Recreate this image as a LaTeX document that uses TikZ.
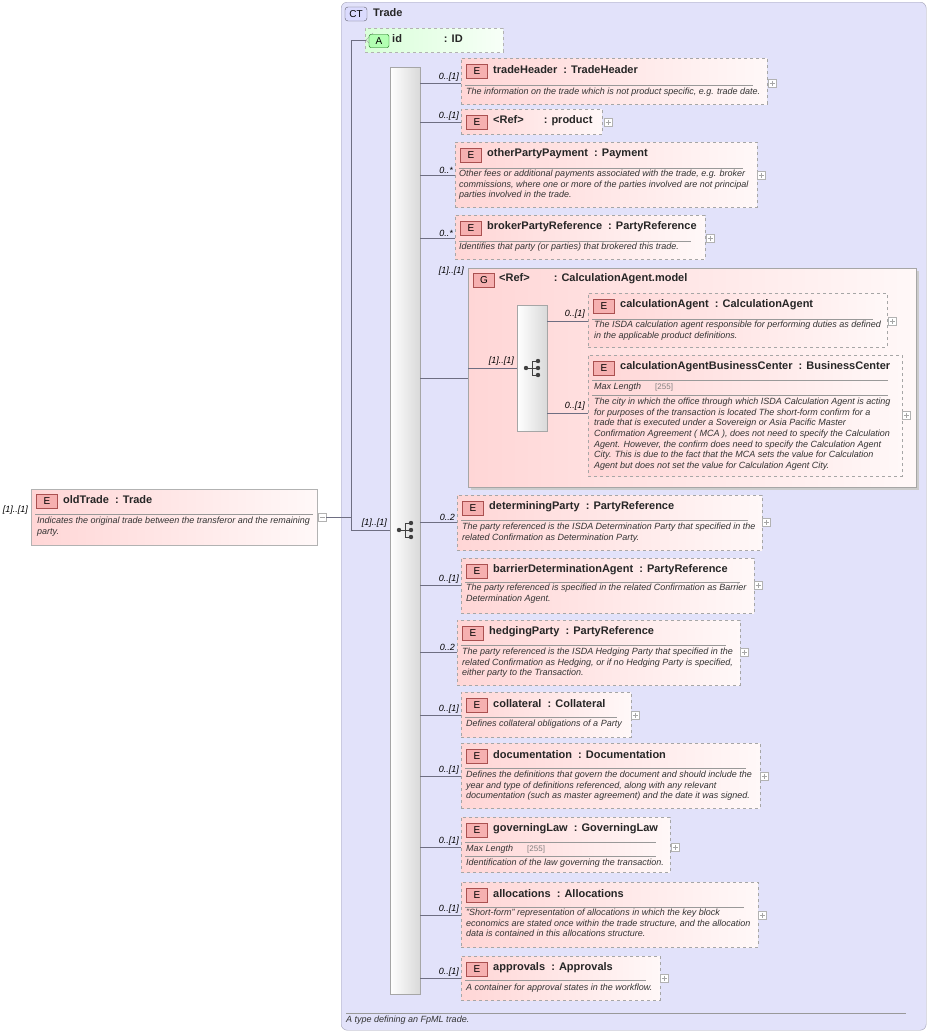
\documentclass[tikz,border=0pt]{standalone}
\usepackage{fontspec}
\setmainfont{Liberation Sans}
\usetikzlibrary{calc}
\definecolor{ctfill}{RGB}{226,226,250}
\definecolor{ctline}{RGB}{160,160,180}
\definecolor{pinkL}{RGB}{255,214,214}
\definecolor{pinkR}{RGB}{255,248,248}
\definecolor{badgeF}{RGB}{246,176,176}
\definecolor{badgeD}{RGB}{170,80,80}
\definecolor{conn}{RGB}{110,110,130}
\tikzset{
 elbox/.style={draw=gray!70,dashed,left color=pinkL,right color=pinkR,inner sep=0pt,anchor=north west},
 badge/.style={draw=badgeD,fill=badgeF,minimum width=21pt,minimum height=14pt,inner sep=0pt,font=\fontsize{10}{10}\selectfont},
 ttl/.style={anchor=west,inner sep=0pt,font=\fontsize{11}{12}\selectfont\bfseries,text=black!85},
 dsc/.style={anchor=north west,inner sep=0pt,align=left,font=\fontsize{9}{10.6}\selectfont\itshape,text=black!80},
 sep/.style={draw=gray!80,line width=0.5pt},
 plus/.style={draw=gray!60,fill=white,minimum size=8pt,inner sep=0pt,path picture={\draw[gray!70] ($(path picture bounding box.west)+(1.5pt,0)$)--($(path picture bounding box.east)+(-1.5pt,0)$) ($(path picture bounding box.north)+(0,-1.5pt)$)--($(path picture bounding box.south)+(0,1.5pt)$);}},
 minus/.style={draw=gray!60,fill=white,minimum size=8pt,inner sep=0pt,path picture={\draw[gray!70] ($(path picture bounding box.west)+(1.5pt,0)$)--($(path picture bounding box.east)+(-1.5pt,0)$);}},
 cn/.style={draw=conn,line width=0.5pt},
 card/.style={anchor=south east,inner sep=1pt,font=\fontsize{9}{10}\selectfont\itshape},
 seqbox/.style={draw=gray!70,left color=white,right color=gray!30,inner sep=0pt,anchor=north west},
}
\newcommand\El[6]{%
 \pgfmathsetmacro\ww{#4-#2}\pgfmathsetmacro\hh{#5-#3}%
 \node[elbox,minimum width=\ww pt,minimum height=\hh pt] (#1) at (#2,#3) {};
 \node[badge] (#1b) at (#2+16,#3+13) {E};
 \node[ttl] (#1t) at (#2+32,#3+12) {#6};
}
\newcommand\Sep[3]{\draw[sep] (#1+4,#3) -- (#2-14,#3);}
\newcommand\Seqicon[2]{%
 \fill[black!75] (#1-7,#2) circle (2.2pt);
 \draw[black!75,line width=0.9pt] (#1-7,#2) -- (#1-1,#2) (#1-1,#2-7) -- (#1-1,#2+7) (#1-1,#2-7) -- (#1+5,#2-7) (#1-1,#2) -- (#1+5,#2) (#1-1,#2+7) -- (#1+5,#2+7);
 \fill[black!75] (#1+5,#2-7) circle (2.2pt) (#1+5,#2) circle (2.2pt) (#1+5,#2+7) circle (2.2pt);
}
\begin{document}
\begin{tikzpicture}[x=1pt,y=-1pt]
\useasboundingbox (0,0) rectangle (930,1036);
% CT box
\node[draw=ctline,fill=ctfill,rounded corners=6pt,minimum width=585pt,minimum height=1028pt,anchor=north west,inner sep=0pt] (ct) at (341,2) {};
\node[draw=ctline!60!black,fill=ctfill!60!blue!30,rounded corners=3pt,minimum width=22pt,minimum height=14pt,inner sep=0pt,font=\fontsize{10}{10}\selectfont] (ctb) at (356,14) {CT};
\node[ttl] (ctt) at (373,13) {Trade};
\draw[sep] (346,1013) -- (906,1013);
\node[dsc] (ctd) at (346,1016) {A type defining an FpML trade.};
% id attribute
\node[draw=gray!60,dashed,left color=green!15,right color=green!3,minimum width=138pt,minimum height=24pt,inner sep=0pt,anchor=north west] (id) at (365,28) {};
\draw[fill=green!20,draw=gray!60] (373,33) -- (366,40) -- (373,47);
\node[draw=green!40!black,fill=green!30,rounded corners=2pt,minimum width=20pt,minimum height=13pt,inner sep=0pt,font=\fontsize{10}{10}\selectfont] (idb) at (379,41) {A};
\node[ttl] (idt) at (392,39) {id\hspace{42pt}: ID};
% oldTrade
\node[elbox,solid,draw=gray!60,minimum width=286pt,minimum height=56pt] (old) at (31,489) {};
\node[badge] (oldb) at (47,501) {E};
\node[ttl] (oldt) at (63,500) {oldTrade\ \ : Trade};
\draw[sep] (35,514) -- (313,514);
\node[dsc] (oldd) at (37,517) {Indicates the original trade between the transferor and the remaining\\party.};
\node[card,anchor=east] (oldc) at (29,510) {[1]..[1]};
\node[minus] (oldm) at (322,517) {};
\coordinate (j1) at (351,517);
\coordinate (j0) at (351,40);
\coordinate (j2) at (351,530);
% main sequence
\node[seqbox,minimum width=30pt,minimum height=927pt] (seq) at (390,67) {};
\Seqicon{406}{530}
\draw[cn] (oldm.east) -- (j1);
\draw[cn] (j0) -- (j2);
\draw[cn] (j0) -- (366,40);
\draw[cn] (j2) -- (seq.west |- j2);
\node[card] at (388,529) {[1]..[1]};
% elements
\El{th}{461}{58}{767}{104}{tradeHeader\ \ : TradeHeader}
\Sep{461}{767}{85}
\node[dsc] at (466,88) {The information on the trade which is not product specific, e.g. trade date.};
\El{pr}{461}{109}{602}{134}{<Ref>\hspace{20pt}: product}
\El{op}{455}{142}{757}{207}{otherPartyPayment\ \ : Payment}
\Sep{455}{757}{168}
\node[dsc] at (459,170) {Other fees or additional payments associated with the trade, e.g. broker\\commissions, where one or more of the parties involved are not principal\\parties involved in the trade.};
\El{bp}{455}{215}{705}{259}{brokerPartyReference\ \ : PartyReference}
\Sep{455}{705}{241}
\node[dsc] at (459,243) {Identifies that party (or parties) that brokered this trade.};
% group
\fill[gray!40] (471,271) rectangle (919,490);
\node[draw=gray!70,left color=pinkL,right color=pinkR,minimum width=448pt,minimum height=219pt,inner sep=0pt,anchor=north west] (grp) at (468,268) {};
\node[badge] (grpb) at (484,280) {G};
\node[ttl] (grpt) at (499,279) {<Ref>\hspace{24pt}: CalculationAgent.model};
\node[seqbox,minimum width=30pt,minimum height=126pt] (seq2) at (517,305) {};
\Seqicon{533}{368}
\El{ca}{588}{293}{887}{347}{calculationAgent\ \ : CalculationAgent}
\Sep{588}{887}{319}
\node[dsc] at (594,321) {The ISDA calculation agent responsible for performing duties as defined\\in the applicable product definitions.};
\El{cb}{588}{355}{902}{476}{calculationAgentBusinessCenter\ \ : BusinessCenter}
\Sep{588}{902}{380}
\node[dsc] at (594,383) {Max Length\hspace{14pt}{\upshape\color{gray}\fontsize{8}{8}\selectfont[255]}};
\Sep{588}{902}{395}
\node[dsc] at (594,398) {The city in which the office through which ISDA Calculation Agent is acting\\for purposes of the transaction is located The short-form confirm for a\\trade that is executed under a Sovereign or Asia Pacific Master\\Confirmation Agreement ( MCA ), does not need to specify the Calculation\\Agent. However, the confirm does need to specify the Calculation Agent\\City. This is due to the fact that the MCA sets the value for Calculation\\Agent but does not set the value for Calculation Agent City.};
\node[plus] (cap) at (892,321) {};
\node[plus] (cbp) at (906,415) {};
\draw[cn] (grp.west |- 0,368) -- (seq2.west |- 0,368);
\node[card] at (515,367) {[1]..[1]};
\draw[cn] (seq2.east |- 0,321) -- (ca.west |- 0,321);
\node[card] at (586,320) {0..[1]};
\draw[cn] (seq2.east |- 0,413) -- (cb.west |- 0,413);
\node[card] at (586,412) {0..[1]};
\El{dp}{457}{495}{762}{550}{determiningParty\ \ : PartyReference}
\Sep{457}{762}{520}
\node[dsc] at (462,523) {The party referenced is the ISDA Determination Party that specified in the\\related Confirmation as Determination Party.};
\El{bd}{461}{558}{754}{613}{barrierDeterminationAgent\ \ : PartyReference}
\Sep{461}{754}{582}
\node[dsc] at (466,584) {The party referenced is specified in the related Confirmation as Barrier\\Determination Agent.};
\El{hp}{457}{620}{740}{685}{hedgingParty\ \ : PartyReference}
\Sep{457}{740}{645}
\node[dsc] at (462,648) {The party referenced is the ISDA Hedging Party that specified in the\\related Confirmation as Hedging, or if no Hedging Party is specified,\\either party to the Transaction.};
\El{co}{461}{692}{631}{737}{collateral\ \ : Collateral}
\Sep{461}{631}{717}
\node[dsc] at (466,720) {Defines collateral obligations of a Party};
\El{dc}{461}{743}{760}{808}{documentation\ \ : Documentation}
\Sep{461}{760}{768}
\node[dsc] at (466,771) {Defines the definitions that govern the document and should include the\\year and type of definitions referenced, along with any relevant\\documentation (such as master agreement) and the date it was signed.};
\El{gl}{461}{817}{670}{872}{governingLaw\ \ : GoverningLaw}
\Sep{461}{670}{842}
\node[dsc] at (466,845) {Max Length\hspace{14pt}{\upshape\color{gray}\fontsize{8}{8}\selectfont[255]}};
\Sep{461}{670}{856}
\node[dsc] at (466,859) {Identification of the law governing the transaction.};
\El{al}{461}{882}{758}{947}{allocations\ \ : Allocations}
\Sep{461}{758}{907}
\node[dsc] at (466,909) {"Short-form" representation of allocations in which the key block\\economics are stated once within the trade structure, and the allocation\\data is contained in this allocations structure.};
\El{ap}{461}{956}{660}{1000}{approvals\ \ : Approvals}
\Sep{461}{660}{980}
\node[dsc] at (466,984) {A container for approval states in the workflow.};
% plus markers and connectors
\foreach \n/\px/\py/\c in {th/772/83/{0..[1]},pr/608/122/{0..[1]},op/761/175/{0..*},bp/710/238/{0..*},dp/766/522/{0..2},bd/758/585/{0..[1]},hp/744/652/{0..2},co/635/715/{0..[1]},dc/764/776/{0..[1]},gl/675/847/{0..[1]},al/762/915/{0..[1]},ap/664/978/{0..[1]}}{
 \node[plus] (\n p) at (\px,\py) {};
 \draw[cn] (seq.east |- 0,\py) -- (\n.west |- 0,\py);
 \node[card] at ($(\n.west |- 0,\py)+(-1,0)$) {\c};
}
\draw[cn] (seq.east |- 0,378) -- (grp.west |- 0,378);
\node[card] at (465,277) {[1]..[1]};
\end{tikzpicture}
\end{document}
